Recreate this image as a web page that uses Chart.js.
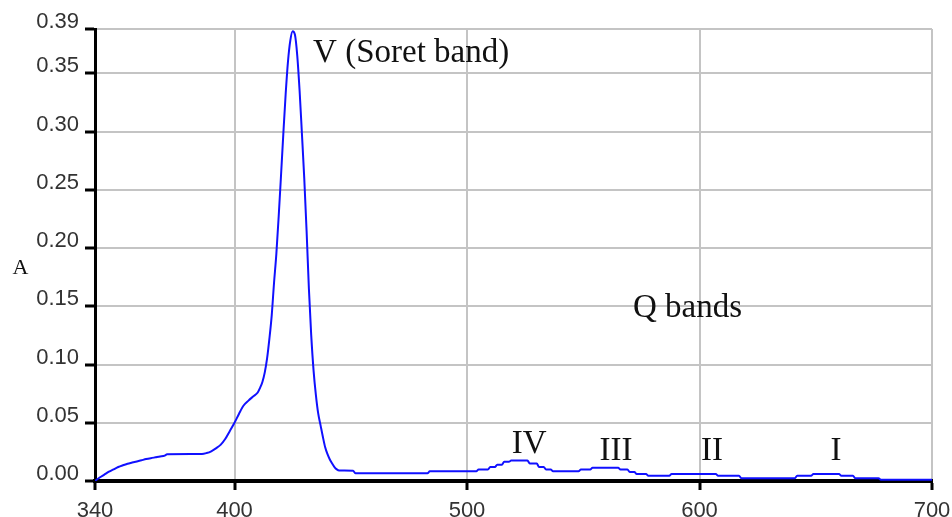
<!DOCTYPE html>
<html>
<head>
<meta charset="utf-8">
<script src="https://cdn.jsdelivr.net/npm/chart.js@4/dist/chart.umd.min.js"></script>
<style>
html,body{margin:0;padding:0;background:#fff;}
#wrap{width:952px;height:517px;}
</style>
</head>
<body>
<div id="wrap"><canvas id="c" width="952" height="517"></canvas></div>
<script>
// Wavelength (nm)
const wavelengths = [340,342,344,346,348,350,352,354,356,358,360,362,364,366,368,370,371,386,388,390,392,394,396,398,400,402,404,406,408,410,411,412,413,414,415,416,417,418,419,420,421,422,423,424,425,426,427,428,429,430,431,432,433,434,435,436,437,438,439,440,441,442,443,444,445,451,452,483,484,504,505,509,510,512,513,515,516,518,519,526,527,530,531,533,534,536,537,548,549,553,554,565,566,569,570,572,573,577,578,587,588,607,608,617,618,641,642,648,649,660,661,666,667,677,678,700];
// Absorbance (A)
const absorbance = [0.0000,0.0030,0.0055,0.0080,0.0100,0.0120,0.0135,0.0148,0.0158,0.0168,0.0178,0.0188,0.0196,0.0203,0.0210,0.0218,0.0230,0.0232,0.0240,0.0255,0.0280,0.0310,0.0360,0.0430,0.0500,0.0580,0.0650,0.0690,0.0725,0.0760,0.0800,0.0850,0.0930,0.1050,0.1220,0.1420,0.1700,0.1950,0.2270,0.2620,0.2980,0.3320,0.3600,0.3780,0.3860,0.3830,0.3650,0.3350,0.2980,0.2600,0.2150,0.1650,0.1250,0.0950,0.0740,0.0580,0.0480,0.0380,0.0290,0.0230,0.0185,0.0150,0.0120,0.0100,0.0090,0.0088,0.0066,0.0066,0.0083,0.0083,0.0098,0.0098,0.0120,0.0120,0.0140,0.0140,0.0165,0.0165,0.0175,0.0175,0.0150,0.0150,0.0120,0.0120,0.0098,0.0098,0.0083,0.0083,0.0098,0.0098,0.0113,0.0113,0.0098,0.0098,0.0077,0.0077,0.0060,0.0060,0.0045,0.0045,0.0060,0.0060,0.0045,0.0045,0.0024,0.0024,0.0045,0.0045,0.0060,0.0060,0.0045,0.0045,0.0024,0.0024,0.0010,0.0010];

const xTicks = [340,400,500,600,700];
const yTicks = [0,0.05,0.10,0.15,0.20,0.25,0.30,0.35,0.388];
const xMin = 340, xMax = 700, yMin = 0, yMax = 0.388;
const yAxisLabel = 'A';

// Band annotations: text, wavelength, absorbance (anchor), alignment
const bandLabels = ['V (Soret band)','Q bands','IV','III','II','I'];
const bandX = [433.8,571.4,526.7,564.1,605.4,658.7];
const bandY = [0.3594,0.141,0.0241,0.0181,0.0181,0.0181];
const bandAlign = ['left','left','center','center','center','center'];

const points = wavelengths.map((w,i)=>({x:w,y:absorbance[i]}));

const annot = {
  id:'annot',
  afterDraw(chart){
    const {ctx, scales:{x,y}, chartArea} = chart;
    ctx.save();
    ctx.fillStyle = '#111';
    ctx.font = '33px "Liberation Serif", "Times New Roman", serif';
    ctx.textBaseline = 'alphabetic';
    bandLabels.forEach((t,i)=>{
      ctx.textAlign = bandAlign[i];
      ctx.fillText(t, x.getPixelForValue(bandX[i]), y.getPixelForValue(bandY[i]));
    });
    ctx.font = '22px "Liberation Serif", "Times New Roman", serif';
    ctx.textAlign = 'center';
    ctx.fillText(yAxisLabel, 20.5, chartArea.top + (chartArea.bottom-chartArea.top)*0.542);
    ctx.restore();
  }
};

new Chart(document.getElementById('c'), {
  type:'line',
  data:{datasets:[{
    data:points,
    borderColor:'#1010ff',
    borderWidth:2,
    pointRadius:0,
    fill:false,
    cubicInterpolationMode:'monotone'
  }]},
  options:{
    responsive:false,
    animation:false,
    events:[],
    layout:{padding:{top:29,right:20,bottom:0,left:0}},
    plugins:{legend:{display:false},tooltip:{enabled:false}},
    scales:{
      x:{
        type:'linear', min:xMin, max:xMax,
        afterBuildTicks(s){ s.ticks = xTicks.map(v=>({value:v})); },
        afterFit(s){ s.height = 36; s.paddingLeft = 0; s.paddingRight = 0; },
        grid:{
          color:(c)=> (c.tick && c.tick.value===xMin) ? 'rgba(0,0,0,0)' : '#c4c4c4',
          lineWidth:2, tickColor:'#000', tickWidth:3, tickLength:9, drawTicks:true
        },
        border:{display:true, color:'#000', width:4},
        ticks:{
          color:'#333', padding:8, maxRotation:0, autoSkip:false,
          font:{family:'"Liberation Sans", Arial, sans-serif', size:22},
          callback:(v)=>String(v)
        }
      },
      y:{
        type:'linear', min:yMin, max:yMax,
        afterBuildTicks(s){ s.ticks = yTicks.map(v=>({value:v})); },
        afterFit(s){ s.width = 95; s.paddingTop = 0; s.paddingBottom = 0; },
        grid:{
          color:(c)=> (c.tick && c.tick.value===0) ? 'rgba(0,0,0,0)' : '#c4c4c4',
          lineWidth:2, tickColor:'#000', tickWidth:3, tickLength:10
        },
        border:{display:true, color:'#000', width:3},
        ticks:{
          color:'#333', padding:6, labelOffset:-7, autoSkip:false,
          font:{family:'"Liberation Sans", Arial, sans-serif', size:22},
          callback:(v)=>Number(v).toFixed(2)
        }
      }
    }
  },
  plugins:[annot]
});
</script>
</body>
</html>
